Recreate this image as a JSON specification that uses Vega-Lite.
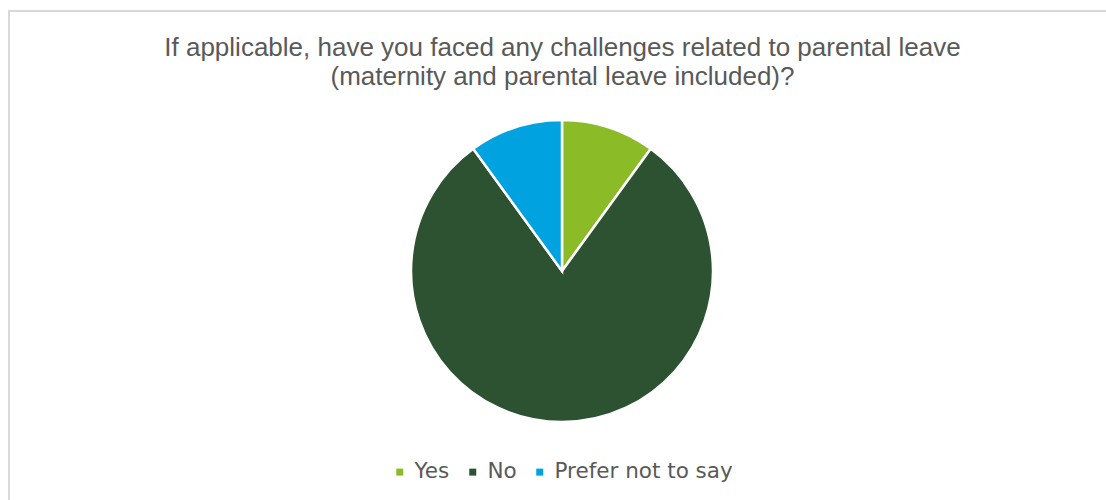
{
  "$schema": "https://vega.github.io/schema/vega-lite/v6.json",
  "width": 1099,
  "height": 491,
  "autosize": {"type": "none"},
  "padding": {"left": 9, "top": 11, "right": -2, "bottom": -2},
  "background": "white",
  "view": {"stroke": "#d9d9d9", "strokeWidth": 2, "fill": "white"},
  "title": {
    "text": ["If applicable, have you faced any challenges related to parental leave", "(maternity and parental leave included)?"],
    "font": "Liberation Sans",
    "fontSize": 26,
    "fontWeight": "normal",
    "color": "#595959",
    "lineHeight": 29,
    "anchor": "middle",
    "dx": 4,
    "offset": -79
  },
  "data": {
    "values": [
      {"answer": "Yes", "share": 10, "rank": 1},
      {"answer": "No", "share": 80, "rank": 2},
      {"answer": "Prefer not to say", "share": 10, "rank": 3}
    ]
  },
  "mark": {"type": "arc", "outerRadius": 151, "stroke": "white", "strokeWidth": 2.5, "xOffset": 3.5, "yOffset": 14.5},
  "encoding": {
    "theta": {"field": "share", "type": "quantitative", "stack": true},
    "order": {"field": "rank", "type": "quantitative", "sort": "ascending"},
    "color": {
      "field": "answer",
      "type": "nominal",
      "sort": ["Yes", "No", "Prefer not to say"],
      "scale": {"domain": ["Yes", "No", "Prefer not to say"], "range": ["#8BBC28", "#2C5232", "#00A2E0"]},
      "legend": {
        "title": null,
        "orient": "none",
        "direction": "horizontal",
        "legendX": 380,
        "legendY": 450,
        "padding": 0,
        "symbolType": "square",
        "symbolSize": 49,
        "symbolStrokeWidth": 0,
        "labelFont": "DejaVu Sans",
        "labelFontSize": 21.5,
        "labelColor": "#595959",
        "labelOffset": 4,
        "columnPadding": 12,
        "labelLimit": 400
      }
    }
  }
}
